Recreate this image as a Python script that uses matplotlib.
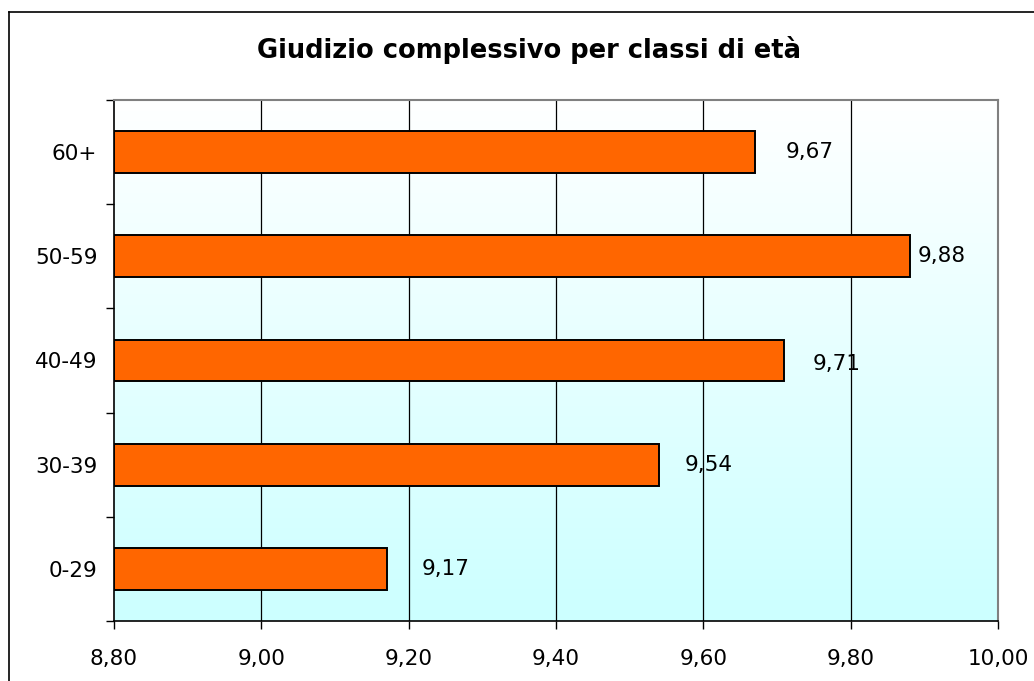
import matplotlib
matplotlib.use("Agg")
import matplotlib.pyplot as plt
import numpy as np
from matplotlib.lines import Line2D
from matplotlib.colors import LinearSegmentedColormap

categories = ["0-29", "30-39", "40-49", "50-59", "60+"]
values = [9.17, 9.54, 9.71, 9.88, 9.67]
value_labels = ["9,17", "9,54", "9,71", "9,88", "9,67"]
x_ticks = [8.80, 9.00, 9.20, 9.40, 9.60, 9.80, 10.00]
x_tick_labels = ["8,80", "9,00", "9,20", "9,40", "9,60", "9,80", "10,00"]
title = "Giudizio complessivo per classi di età"

# label placement offsets (pixels, x/y) to mimic reference
label_dx = [59, 50, 52, 32, 55]
label_dy = [0, 0, -3, 0, 0]

fig = plt.figure(figsize=(10.34, 6.81), dpi=100)
fig.patch.set_facecolor("white")

# outer chart border (top & left visible)
fig.add_artist(Line2D([9/1034, 9/1034], [1 - 12/681, 0], transform=fig.transFigure, color="black", lw=1.2))
fig.add_artist(Line2D([9/1034, 1], [1 - 12/681, 1 - 12/681], transform=fig.transFigure, color="black", lw=1.2))

ax = fig.add_axes([114/1034, 1 - 621/681, (998 - 114)/1034, (621 - 100)/681])

# gradient background
grad = np.linspace(0, 1, 256).reshape(-1, 1)
cmap = LinearSegmentedColormap.from_list("bg", ["#CCFFFF", "#FFFFFF"])
ax.imshow(grad, aspect="auto", cmap=cmap, origin="lower",
          extent=[0, 1, 0, 1], transform=ax.transAxes, zorder=0)

y = np.arange(len(categories))
ax.set_xlim(8.80, 10.00)
ax.set_ylim(-0.5, len(categories) - 0.5)

for xt in x_ticks[1:-1]:
    ax.axvline(xt, color="black", lw=0.9, zorder=1)

ax.barh(y, np.array(values) - 8.80, left=8.80, height=0.4, color="#FF6600",
        edgecolor="black", linewidth=1.4, zorder=3)

for i, v in enumerate(values):
    ax.annotate(value_labels[i], xy=(v, y[i]), xytext=(label_dx[i] * 0.72, label_dy[i] * 0.72),
                textcoords="offset points", ha="center", va="center",
                fontsize=15.5, color="black", zorder=4)

ax.set_xticks(x_ticks)
ax.set_xticklabels(x_tick_labels, fontsize=15.5)
ax.set_yticks(y)
ax.set_yticklabels(categories, fontsize=15.5)
ax.set_yticks(np.arange(-0.5, len(categories), 1.0), minor=True)
ax.tick_params(axis="y", which="major", length=0, pad=12)
ax.tick_params(axis="y", which="minor", length=6, width=1, direction="out", color="black")
ax.tick_params(axis="x", which="major", length=6, width=1, direction="out", pad=14)

for side in ["left", "bottom"]:
    ax.spines[side].set_color("black")
    ax.spines[side].set_linewidth(1.2)
for side in ["top", "right"]:
    ax.spines[side].set_color("#808080")
    ax.spines[side].set_linewidth(1.5)

fig.text(529/1034, 1 - 50/681, title, ha="center", va="center",
         fontsize=18.5, fontweight="bold", color="black")

fig.savefig("out.png", dpi=100)
